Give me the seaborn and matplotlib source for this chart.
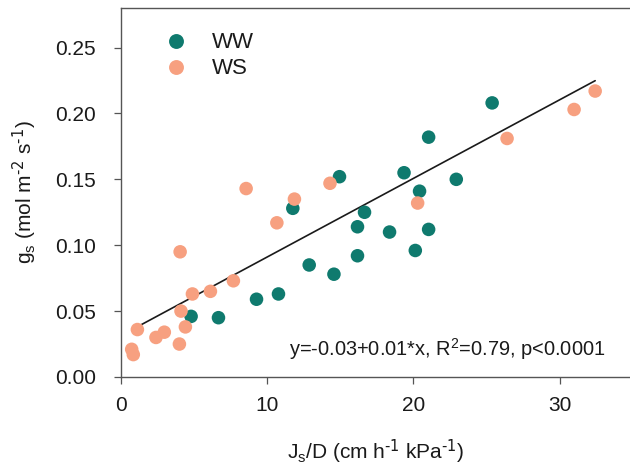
import matplotlib
matplotlib.use("Agg")
import matplotlib.pyplot as plt
import seaborn as sns
import pandas as pd

# data
ww_x = [4.81, 6.68, 9.28, 10.78, 11.76, 12.88, 14.57, 14.95, 16.18, 16.18,
        16.66, 18.37, 19.36, 20.13, 20.42, 21.04, 21.04, 22.93, 25.38]
ww_y = [0.046, 0.045, 0.059, 0.063, 0.128, 0.085, 0.078, 0.152, 0.114, 0.092,
        0.125, 0.110, 0.155, 0.096, 0.141, 0.112, 0.182, 0.150, 0.208]
ws_x = [0.75, 0.86, 1.14, 2.41, 2.98, 4.01, 4.06, 4.12, 4.42, 4.90,
        6.13, 7.70, 8.57, 10.67, 11.87, 14.30, 20.29, 26.40, 30.98, 32.42]
ws_y = [0.021, 0.017, 0.036, 0.030, 0.034, 0.025, 0.095, 0.050, 0.038, 0.063,
        0.065, 0.073, 0.143, 0.117, 0.135, 0.147, 0.132, 0.181, 0.203, 0.217]
groups = ["WW", "WS"]
colors = {"WW": "#0f7a6e", "WS": "#f7a080"}
x_ticks = [0, 10, 20, 30]
y_ticks = [0.00, 0.05, 0.10, 0.15, 0.20, 0.25]
# fitted line as drawn in the reference (intercept, slope)
fit_intercept = 0.0313
fit_slope = 0.00597

df = pd.DataFrame({
    "x": ww_x + ws_x,
    "y": ww_y + ws_y,
    "grp": ["WW"] * len(ww_x) + ["WS"] * len(ws_x),
})
xr = [min(df["x"]) + 0.04, max(df["x"])]
fit_df = pd.DataFrame({"x": xr, "y": [fit_intercept + fit_slope * v for v in xr]})

sns.set_style("ticks")
plt.rcParams["font.family"] = ["Liberation Sans", "DejaVu Sans"]
plt.rcParams["mathtext.default"] = "regular"

fig = plt.figure(figsize=(6.3, 4.72), dpi=100)
ax = fig.add_axes([0.1916, 0.2013, 0.8084, 0.7817])

sns.lineplot(data=fit_df, x="x", y="y", ax=ax, color="#1a1a1a", lw=1.2)
sns.scatterplot(data=df, x="x", y="y", hue="grp", hue_order=groups,
                palette=colors, s=95, edgecolor="none", linewidth=0, ax=ax,
                zorder=3)

ax.set_xlim(0, 34.8)
ax.set_ylim(0, 0.28)
ax.set_xticks(x_ticks)
ax.set_yticks(y_ticks)
ax.set_yticklabels([f"{v:.2f}" for v in y_ticks])
ax.tick_params(axis="both", labelsize=15, length=5, width=0.9,
               color="#555555", labelcolor="#1a1a1a")
ax.tick_params(axis="y", pad=13)
ax.tick_params(axis="x", pad=9)
for s in ["left", "bottom", "top"]:
    ax.spines[s].set_color("#555555")
    ax.spines[s].set_linewidth(1.0)
ax.spines["right"].set_visible(False)

ax.set_xlabel(r"J$_s$/D (cm h$^{\text{-1}}$ kPa$^{\text{-1}}$)", fontsize=15,
              labelpad=16, color="#1a1a1a")
ax.set_ylabel(r"g$_s$ (mol m$^{\text{-2}}$ s$^{\text{-1}}$)", fontsize=15,
              labelpad=11, color="#1a1a1a")

ax.text(0.951, 0.075, r"y=-0.03+0.01*x, R$^2$=0.79, p<0.0001",
        transform=ax.transAxes, ha="right", va="center", fontsize=14.4,
        color="#1a1a1a")

leg = ax.legend(loc="upper left", frameon=False, fontsize=16,
                bbox_to_anchor=(0.025, 0.988), handletextpad=0.65,
                labelspacing=0.22, markerscale=1.1)
for t in leg.get_texts():
    t.set_color("#1a1a1a")

fig.savefig("out.png", dpi=100)
